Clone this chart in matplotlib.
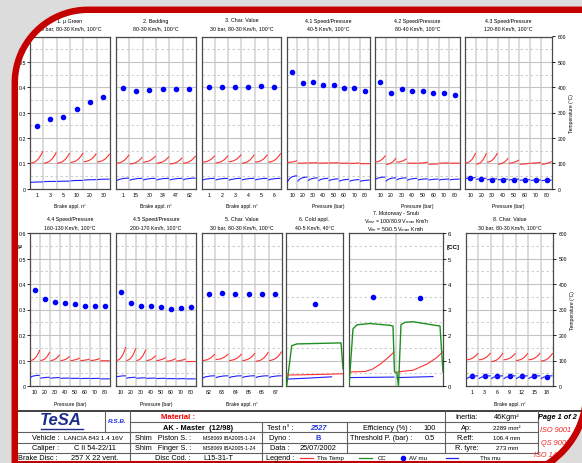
import numpy as np
import matplotlib.pyplot as plt
from matplotlib.patches import PathPatch
from matplotlib.path import Path
from matplotlib.ticker import FuncFormatter

plt.rcParams['font.family'] = ['Liberation Sans', 'DejaVu Sans']

W, H = 582, 464
ROW1 = (37.5, 189.5)
ROW2 = (234, 387)

RED = '#ff3030'
BLUE = '#2020ff'
GREEN = '#1f8f1f'
GRID = '#c4c4c4'
FRAME = '#4a4a4a'

# ---------------- data ----------------
press = ['10', '20', '30', '40', '50', '60', '70', '80']

# 1. mu green
green_n = ['1', '3', '5', '10', '20', '30']
green_mu = [0.247, 0.273, 0.281, 0.314, 0.342, 0.363]
green_red = [(100, 148), (100, 143), (100, 140), (103, 140), (106, 138), (105, 137)]
green_blue = [(24, 26), (27, 28), (28, 29), (30, 32), (33, 35), (35, 37)]

# 2. bedding
bed_n = ['1', '15', '30', '34', '47', '62']
bed_mu = [0.398, 0.383, 0.389, 0.392, 0.394, 0.394]
bed_red = [(100, 133), (97, 124), (104, 129), (100, 126), (97, 122), (100, 129)]
bed_blue = [(30, 41), (32, 40), (33, 40), (33, 40), (33, 40), (34, 41)]

# 3. char value
char3_n = ['1', '2', '3', '4', '5', '6']
char3_mu = [0.402, 0.402, 0.400, 0.400, 0.404, 0.402]
char3_red = [(104, 130), (101, 130), (106, 134), (100, 134), (104, 134), (104, 139)]
char3_blue = [(33, 40), (33, 40), (32, 40), (33, 40), (33, 40), (33, 40)]

# 4.1 / 4.2 / 4.3 speed-pressure
sp41_mu = [0.460, 0.416, 0.419, 0.409, 0.407, 0.397, 0.396, 0.383]
sp41_red = [(103, 110), (100, 101), (101, 102), (100, 101), (101, 102), (100, 100), (99, 101), (98, 98)]
sp41_blue = [(25, 50), (28, 45), (30, 42), (30, 40), (30, 38), (28, 36), (28, 35), (28, 33)]

sp42_mu = [0.419, 0.377, 0.393, 0.385, 0.385, 0.376, 0.376, 0.371]
sp42_red = [(105, 130), (95, 120), (104, 118), (100, 100), (100, 104), (96, 97), (100, 101), (100, 100)]
sp42_blue = [(35, 45), (28, 42), (33, 42), (32, 40), (33, 38), (33, 37), (33, 37), (34, 37)]

sp43_mu = [0.041, 0.037, 0.035, 0.035, 0.035, 0.033, 0.033, 0.033]
sp43_red = [(100, 140), (96, 140), (104, 140), (96, 120), (100, 113), (96, 100), (100, 103), (96, 107)]
sp43_blue = [(38, 43), (35, 40), (34, 38), (34, 37), (33, 37), (32, 35), (32, 34), (31, 33)]

# 4.4 / 4.5
sp44_mu = [0.375, 0.340, 0.329, 0.325, 0.322, 0.312, 0.312, 0.312]
sp44_red = [(100, 142), (100, 133), (100, 123), (100, 117), (100, 110), (100, 106), (100, 108), (99, 99)]
sp44_blue = [(33, 42), (30, 34), (30, 33), (30, 31), (30, 30), (29, 30), (29, 30), (28, 28)]

sp45_mu = [0.367, 0.325, 0.315, 0.312, 0.310, 0.303, 0.307, 0.310]
sp45_red = [(100, 153), (100, 148), (100, 143), (100, 120), (100, 112), (97, 108), (98, 107), (96, 96)]
sp45_blue = [(35, 40), (30, 34), (30, 32), (30, 31), (29, 30), (29, 29), (28, 29), (28, 28)]

# 5. char value
char5_n = ['62', '63', '64', '65', '66', '67']
char5_mu = [0.362, 0.365, 0.359, 0.362, 0.362, 0.359]
char5_red = [(100, 126), (104, 126), (100, 126), (100, 129), (97, 133), (100, 135)]
char5_blue = [(30, 40), (32, 40), (32, 40), (33, 40), (33, 40), (33, 40)]

# 6. cold appl.
cold_mu = [0.323]
cold_time_cc = [0.012, 0.10, 0.19, 0.965, 1.0]
cold_cc = [0.0, 1.58, 1.65, 1.69, 0.67]
cold_time_red = [0.0, 0.3, 0.7, 1.0]
cold_red = [43, 44, 46, 48]
cold_time_blue = [0.0, 0.4, 0.8]
cold_blue = [27, 31, 36]

# 7. motorway - snub
mw_mu = [0.350, 0.346]
mw_time_cc = [0.0, 0.085, 0.17, 0.447, 0.872, 0.936, 0.968, 1.021, 1.053, 1.106, 1.191, 1.362, 1.936, 2.0]
mw_cc = [0.0, 2.24, 2.40, 2.45, 2.38, 2.35, 0.55, 0.50, 0.0, 2.40, 2.50, 2.52, 2.35, 0.55]
mw_time_red1 = [0.0, 0.34, 0.49, 0.66, 0.81, 0.957]
mw_red1 = [55, 57, 65, 85, 108, 133]
mw_time_red2 = [1.021, 1.362, 1.66, 1.872, 2.0]
mw_red2 = [55, 62, 86, 112, 135]
mw_time_blue1 = [0.0, 0.957]
mw_blue1 = [33, 35]
mw_time_blue2 = [1.021, 1.787]
mw_blue2 = [33, 37]

# 8. char value
char8_n = ['1', '3', '6', '9', '12', '15', '18']
char8_mu = [0.038, 0.039, 0.038, 0.038, 0.039, 0.038, 0.037]
char8_red = [(103, 129), (103, 130), (96, 130), (103, 129), (100, 129), (103, 130), (98, 129)]
char8_blue = [(27, 40), (28, 40), (28, 40), (28, 40), (28, 40), (28, 40), (28, 40)]

# ---------------- figure ----------------
fig = plt.figure(figsize=(W / 100, H / 100), dpi=100)
fig.patch.set_facecolor('white')

bg = fig.add_axes([0, 0, 1, 1], zorder=0)
bg.set_xlim(0, W)
bg.set_ylim(H, 0)
bg.axis('off')


def px_axes(x0, x1, y0, y1, z=2):
    return fig.add_axes([x0 / W, 1 - y1 / H, (x1 - x0) / W, (y1 - y0) / H], zorder=z)


def ftext(x, y, s, **kw):
    kw.setdefault('ha', 'center')
    kw.setdefault('va', 'center')
    kw.setdefault('fontsize', 3.8)
    bg.text(x, y, s, **kw)


def trace(ax, i, t0, t1, color, late=True):
    # one brake application: red rises late, blue rises early
    a, b = i + 0.03, i + 0.97
    ctrl = (a + 0.6 * (b - a), t0) if late else (a + 0.25 * (b - a), t1)
    path = Path([(a, t0), ctrl, (b, t1)], [Path.MOVETO, Path.CURVE3, Path.CURVE3])
    ax.add_patch(PathPatch(path, fc='none', ec=color, lw=0.8))


def panel(x0, x1, rows, title, labels, mu, red=None, blue=None, xlabel=None,
          nbins=None, left=False, right=False):
    top, bot = rows
    ax = px_axes(x0, x1, top, bot)
    n = len(labels) if labels else nbins
    ax.set_xlim(0, n)
    ax.set_ylim(0, 0.6)
    ax.set_yticks(np.arange(0, 0.61, 0.1))
    ax.set_yticks(np.arange(0.05, 0.6, 0.1), minor=True)
    ax.set_xticks(np.arange(n) + 0.5 if labels else [])
    if labels:
        ax.set_xticklabels(labels)
    ax.set_xticks(np.arange(1, n), minor=True)
    ax.set_axisbelow(True)
    ax.grid(which='major', axis='y', color=GRID, lw=0.8)
    ax.grid(which='minor', axis='y', color=GRID, lw=0.6, ls=(0, (3, 3)))
    ax.grid(which='minor', axis='x', color='#d6d6d6', lw=1.2)
    ax.tick_params(axis='x', which='both', length=0, labelsize=3.8, pad=2.3)
    ax.tick_params(axis='y', which='minor', length=0)
    if left:
        ax.yaxis.set_major_formatter(FuncFormatter(lambda v, _: '0' if v == 0 else f'{v:.1f}'))
        ax.tick_params(axis='y', which='major', length=2, width=0.6, labelsize=3.8, pad=1)
    else:
        ax.tick_params(axis='y', which='major', length=0, labelleft=False)
    for s in ax.spines.values():
        s.set_color(FRAME)
        s.set_linewidth(0.9)

    at = ax.twinx()
    at.set_ylim(0, 600)
    for s in at.spines.values():
        s.set_visible(False)
    if right:
        at.set_yticks(range(0, 601, 100))
        at.tick_params(axis='y', length=2.5, width=0.6, labelsize=3.6, pad=1.5)
        at.set_ylabel('Temperature (°C)', fontsize=3.6, labelpad=2)
    else:
        at.set_yticks([])

    for i, (t0, t1) in enumerate(red or []):
        trace(at, i, t0, t1, RED, late=True)
    for i, (t0, t1) in enumerate(blue or []):
        trace(at, i, t0, t1, BLUE, late=False)
    ax.plot(np.arange(len(mu)) * (n / len(mu)) + 0.5 * n / len(mu), mu, 'o', ms=3.0,
            color='#0000ff', zorder=3)

    xc = (x0 + x1) / 2
    lines = title.split('\n')
    if rows == ROW1:
        ys = [21, 29]
        yl = 207
    else:
        ys = [220, 228] if len(lines) == 2 else [214, 222, 230]
        yl = 405
    for yy, ln in zip(ys, lines):
        ftext(xc, yy, ln)
    if xlabel:
        ftext(xc, yl, xlabel, fontsize=3.6)
    return ax, at


BRK = 'Brake appl. n°'
PRS = 'Pressure (bar)'

panel(30, 110, ROW1, '1. μ Green\n30 bar, 80-30 Km/h, 100°C', green_n, green_mu,
      green_red, green_blue, BRK, left=True)
panel(116, 196, ROW1, '2. Bedding\n80-30 Km/h, 100°C', bed_n, bed_mu, bed_red, bed_blue, BRK)
panel(202, 281, ROW1, '3. Char. Value\n30 bar, 80-30 Km/h, 100°C', char3_n, char3_mu,
      char3_red, char3_blue, BRK)
panel(287, 370, ROW1, '4.1 Speed/Pressure\n40-5 Km/h, 100°C', press, sp41_mu,
      sp41_red, sp41_blue, PRS)
panel(375, 460, ROW1, '4.2 Speed/Pressure\n80-40 Km/h, 100°C', press, sp42_mu,
      sp42_red, sp42_blue, PRS)
panel(465, 552, ROW1, '4.3 Speed/Pressure\n120-80 Km/h, 100°C', press, sp43_mu,
      sp43_red, sp43_blue, PRS, right=True)

panel(30, 110, ROW2, '4.4 Speed/Pressure\n160-130 Km/h, 100°C', press, sp44_mu,
      sp44_red, sp44_blue, PRS, left=True)
panel(116, 196, ROW2, '4.5 Speed/Pressure\n200-170 Km/h, 100°C', press, sp45_mu,
      sp45_red, sp45_blue, PRS)
panel(202, 282, ROW2, '5. Char. Value\n30 bar, 80-30 Km/h, 100°C', char5_n, char5_mu,
      char5_red, char5_blue, BRK)

ax6, at6 = panel(286, 343, ROW2, '6. Cold appl.\n40-5 Km/h, 40°C', None, cold_mu, nbins=1)
at6.plot(cold_time_red, cold_red, color=RED, lw=0.8)
at6.plot(cold_time_blue, cold_blue, color=BLUE, lw=0.8)
cc6 = ax6.twinx()
cc6.set_ylim(0, 6)
cc6.set_yticks([])
for s in cc6.spines.values():
    s.set_visible(False)
cc6.plot(cold_time_cc, cold_cc, color=GREEN, lw=1.0)

ax7, at7 = panel(349, 443, ROW2,
                 '7. Motorway - Snub\nV$_{iniz}$ = 100/80.9 V$_{max}$ Km/h\nV$_{fin}$ = 50/0.5 V$_{max}$ Km/h',
                 None, mw_mu, nbins=2)
at7.plot(mw_time_red1, mw_red1, color=RED, lw=0.8)
at7.plot(mw_time_red2, mw_red2, color=RED, lw=0.8)
at7.plot(mw_time_blue1, mw_blue1, color=BLUE, lw=0.8)
at7.plot(mw_time_blue2, mw_blue2, color=BLUE, lw=0.8)
cc7 = ax7.twinx()
cc7.set_ylim(0, 6)
cc7.set_yticks(range(0, 7))
cc7.tick_params(axis='y', length=2, width=0.6, labelsize=4.2, pad=1.5)
for s in cc7.spines.values():
    s.set_visible(False)
cc7.plot(mw_time_cc, mw_cc, color=GREEN, lw=1.0)
ftext(453, 248, '[CC]', fontsize=4.5, weight='bold')

panel(466, 553, ROW2, '8. Char. Value\n30 bar, 80-30 Km/h, 100°C', char8_n, char8_mu,
      char8_red, char8_blue, BRK, right=True)

ftext(18, 50, 'μ', fontsize=4.5, weight='bold')
ftext(19, 247, 'μ', fontsize=4.5, weight='bold')

# ---------------- info table ----------------
LC = '#606060'
bg.plot([18, 582], [412, 412], color='#404040', lw=1.4)
for y, xa, xb in [(423, 130, 538), (433, 18, 538), (444, 18, 538), (454, 18, 538)]:
    bg.plot([xa, xb], [y, y], color=LC, lw=0.8)
for x, ya, yb in [(105, 412, 433), (130, 412, 464), (262, 423, 464), (347, 423, 454),
                  (445, 412, 454), (538, 412, 454)]:
    bg.plot([x, x], [ya, yb], color=LC, lw=0.8)
bg.plot([18, 582], [463, 463], color='#c00000', lw=1.5)

TS = 5.3
ftext(61, 421, 'TeSA', fontsize=12, weight='bold', style='italic', color='#1c2d8c')
bg.plot([41, 83], [430, 430], color='#1c2d8c', lw=1.0)
ftext(117, 422, 'R.S.B.', fontsize=4.6, weight='bold', style='italic', color='#2233dd')
ftext(178, 418, 'Material :', fontsize=5.6, weight='bold', color='#ee0000')
ftext(198, 429, 'AK - Master  (12/98)', fontsize=5.4, weight='bold')
ftext(466, 418, 'Inertia:', fontsize=TS)
ftext(507, 418, '46Kgm²', fontsize=TS)
ftext(557, 418, 'Page 1 of 2', fontsize=TS, weight='bold', style='italic')

ftext(280, 429, 'Test n° :', fontsize=TS)
ftext(318, 429, '2527', fontsize=TS, weight='bold', style='italic', color='#2233dd')
ftext(387, 429, 'Efficiency (%) :', fontsize=TS)
ftext(430, 429, '100', fontsize=TS)
ftext(466, 429, 'Ap:', fontsize=TS)
ftext(507, 429, '2289 mm²', fontsize=4.4)
ftext(556, 431, 'ISO 9001', fontsize=TS, style='italic', color='#ee2222')

ftext(46, 439, 'Vehicle :', fontsize=TS)
ftext(94, 439, 'LANCIA 843 1.4 16V', fontsize=4.6)
ftext(163, 439, 'Shim   Piston S. :', fontsize=TS)
ftext(229, 439, 'MS8069 IBA2005-1-24', fontsize=3.7)
ftext(280, 439, 'Dyno :', fontsize=TS)
ftext(318, 439, 'B', fontsize=TS, weight='bold', color='#2233dd')
ftext(381, 439, 'Threshold P. (bar) :', fontsize=TS)
ftext(430, 439, '0.5', fontsize=TS)
ftext(465, 439, 'R.eff:', fontsize=TS)
ftext(507, 439, '106.4 mm', fontsize=4.4)
ftext(556, 444, 'QS 9000', fontsize=TS, style='italic', color='#ee2222')

ftext(46, 449, 'Caliper :', fontsize=TS)
ftext(95, 449, 'C II 54-22/11', fontsize=TS)
ftext(163, 449, 'Shim   Finger S. :', fontsize=TS)
ftext(229, 449, 'MS8069 IBA2005-1-24', fontsize=3.7)
ftext(280, 449, 'Data :', fontsize=TS)
ftext(318, 449, '25/07/2002', fontsize=TS)
ftext(467, 449, 'R. tyre:', fontsize=TS)
ftext(507, 449, '273 mm', fontsize=4.4)
ftext(552, 456, 'ISO 14001', fontsize=TS, style='italic', color='#ee2222')

ftext(38, 459, 'Brake Disc :', fontsize=TS)
ftext(95, 459, '257 X 22 vent.', fontsize=TS)
ftext(173, 459, 'Disc Cod. :', fontsize=TS)
ftext(218, 459, 'L15-31-T', fontsize=TS)
ftext(280, 459, 'Legend :', fontsize=TS)
bg.plot([300, 313], [459, 459], color=RED, lw=0.9)
ftext(330, 459, 'Ths Temp', fontsize=4.4)
bg.plot([359, 372], [459, 459], color=GREEN, lw=0.9)
ftext(382, 459, 'CC', fontsize=4.4)
bg.plot([403], [459], 'o', ms=3.0, color='#0000ff')
ftext(418, 459, 'AV mu', fontsize=4.4)
bg.plot([446, 458], [459, 459], color=BLUE, lw=0.9)
ftext(490, 459, 'Ths mu', fontsize=4.4)

# ---------------- red frame with rounded corners, drawn on top ----------------
ov = fig.add_axes([0, 0, 1, 1], zorder=10)
ov.set_xlim(0, W)
ov.set_ylim(H, 0)
ov.axis('off')


def frame_outline(off):
    # inner edge: left x=18, top y=14, top-left radius 70, bottom-right radius 81
    r1, r2 = 70 + off, 81 + off
    tl = np.radians(np.linspace(180, 270, 40))
    br = np.radians(np.linspace(0, 90, 40))
    pts = [(18 - off, 476 + off)]
    pts += list(zip(88 + r1 * np.cos(tl), 84 + r1 * np.sin(tl)))
    pts += [(583 + off, 14 - off)]
    pts += list(zip(502 + r2 * np.cos(br), 394 + r2 * np.sin(br)))
    return np.array(pts)


def closed(pts):
    verts = np.vstack([pts, pts[:1]])
    codes = [Path.MOVETO] + [Path.LINETO] * (len(pts) - 1) + [Path.CLOSEPOLY]
    return Path(verts, codes)


inner = frame_outline(0)
outer = frame_outline(6.5)
screen = np.array([(-20, -20), (620, -20), (620, 500), (-20, 500)])
ov.add_patch(PathPatch(Path.make_compound_path(closed(screen), closed(outer[::-1])),
                       fc='#dcdcdc', ec='none'))
ov.add_patch(PathPatch(Path.make_compound_path(closed(outer), closed(inner[::-1])),
                       fc='#c40000', ec='none'))

plt.savefig('out.png', dpi=100)
